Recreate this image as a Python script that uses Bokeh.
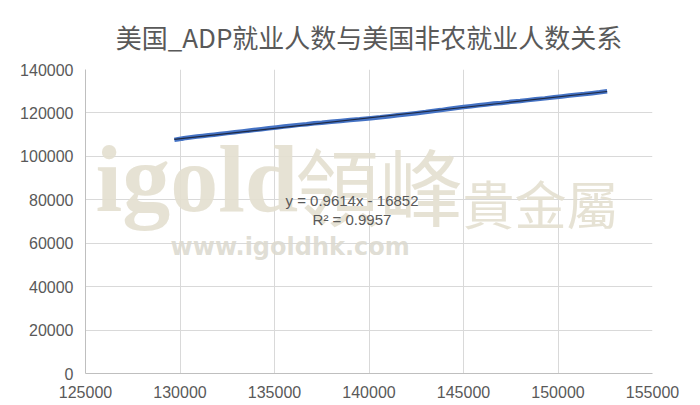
from bokeh.plotting import figure
from bokeh.models import FixedTicker, Label, Range1d
from bokeh.embed import file_html
from bokeh.resources import INLINE

TITLE = "美国_ADP就业人数与美国非农就业人数关系"

# US nonfarm payrolls (x) vs ADP private employment (y), thousands
nfp = [129700, 129900, 130200, 130100, 130300, 130600, 130900, 131200, 131500, 131800,
       132100, 132500, 132900, 133300, 133600, 133900, 134300, 134700, 135100, 135500,
       135900, 136300, 136700, 137100, 137500, 138000, 138500, 139000, 139500, 140100,
       140600, 141100, 141500, 142000, 142500, 143000, 143400, 143800, 144200, 144600,
       145000, 145400, 145800, 146200, 146600, 147000, 147500, 148000, 148400, 148800,
       149300, 149800, 150200, 150600, 151000, 151400, 151800, 152200, 152600]
adp = [107600, 107900, 108300, 108100, 108500, 108800, 109100, 109400, 109700, 110000,
       110300, 110700, 111100, 111500, 111800, 112100, 112500, 112900, 113300, 113700,
       114100, 114500, 114800, 115200, 115500, 115900, 116300, 116700, 117100, 117600,
       118000, 118500, 118900, 119400, 119900, 120400, 120900, 121300, 121800, 122300,
       122700, 123100, 123500, 123900, 124300, 124600, 125100, 125500, 125900, 126300,
       126700, 127200, 127600, 128000, 128400, 128700, 129100, 129500, 129950]

SLOPE = 0.9614
INTERCEPT = -16852
R2 = 0.9957

x_ticks = [125000, 130000, 135000, 140000, 145000, 150000, 155000]
y_ticks = [0, 20000, 40000, 60000, 80000, 100000, 120000, 140000]

GREY = "#595959"

p = figure(width=684, height=400, output_backend="svg", toolbar_location=None,
           x_range=Range1d(125000, 155000), y_range=Range1d(0, 140000),
           min_border_left=85, min_border_right=32, min_border_top=66, min_border_bottom=27)
p.title.text = TITLE
p.title.align = "center"
p.title.text_font = "Noto Sans CJK SC"
p.title.text_font_size = "26px"
p.title.text_font_style = "normal"
p.title.text_color = GREY
p.title.standoff = 30
p.outline_line_color = None
p.background_fill_color = "white"
p.border_fill_color = "white"

for ax in (p.xaxis[0], p.yaxis[0]):
    ax.axis_line_color = "#bfbfbf"
    ax.major_tick_line_color = None
    ax.minor_tick_line_color = None
    ax.major_label_text_color = GREY
    ax.major_label_text_font = "Liberation Sans"
    ax.major_label_text_font_size = "16px"
    ax.major_label_standoff = 6
p.xaxis.ticker = FixedTicker(ticks=x_ticks)
p.yaxis.ticker = FixedTicker(ticks=y_ticks)
p.xaxis.major_label_overrides = {t: str(t) for t in x_ticks}
p.yaxis.major_label_overrides = {t: str(t) for t in y_ticks}
p.xgrid.ticker = FixedTicker(ticks=x_ticks)
p.ygrid.ticker = FixedTicker(ticks=y_ticks)
p.xgrid.grid_line_color = "#d9d9d9"
p.ygrid.grid_line_color = "#d9d9d9"

# watermark
wm = "#e3dfcf"
p.add_layout(Label(x=125530, y=65200, text="igold", text_font="Liberation Serif",
                   text_font_style="bold", text_font_size="96px", text_color=wm,
                   text_alpha=0.9, level="underlay"))
p.add_layout(Label(x=136100, y=59700, text="領峰", text_font="Noto Sans CJK TC",
                   text_font_size="84px", text_color=wm,
                   text_alpha=0.9, level="underlay"))
p.add_layout(Label(x=144950, y=61500, text="貴金屬", text_font="Noto Sans CJK TC",
                   text_font_size="52px", text_color=wm,
                   text_alpha=0.9, level="underlay"))
p.add_layout(Label(x=129500, y=52000, text="www.igoldhk.com", text_font="DejaVu Sans",
                   text_font_style="bold", text_font_size="24px", text_color="#dcdad0",
                   text_alpha=0.9, level="underlay"))

# data
p.line(nfp, adp, line_color="#4472c4", line_width=4.5)
xl = [min(nfp), max(nfp)]
yl = [SLOPE * v + INTERCEPT for v in xl]
p.line(xl, yl, line_color="#1f2a44", line_width=1.2)

p.add_layout(Label(x=139100, y=79800, text=f"y = {SLOPE}x - {abs(INTERCEPT)}",
                   text_align="center", text_baseline="middle", text_font="Liberation Sans",
                   text_font_size="15px", text_color=GREY))
p.add_layout(Label(x=139100, y=71100, text=f"R² = {R2}",
                   text_align="center", text_baseline="middle", text_font="Liberation Sans",
                   text_font_size="15px", text_color=GREY))

open("out.html", "w").write(file_html(p, INLINE))
